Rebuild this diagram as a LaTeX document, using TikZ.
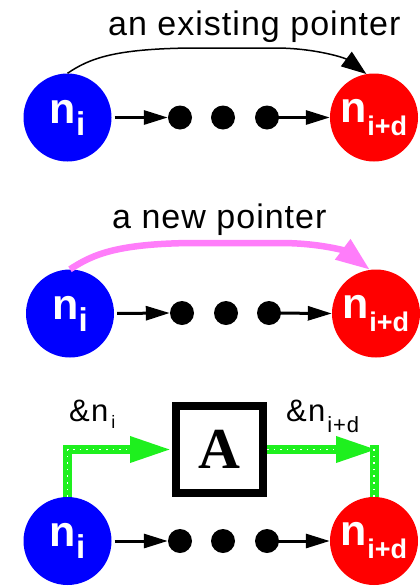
\documentclass[tikz,border=0pt]{standalone}
\usepackage{fontspec}
\setmainfont{Liberation Sans}
\newfontfamily\captionfont[LetterSpace=3]{Liberation Sans}
\newfontfamily\refbfont[LetterSpace=4]{Liberation Sans}
\newfontfamily\boxfont{Liberation Serif}
\usetikzlibrary{arrows.meta}

\definecolor{nodeblue}{RGB}{0,0,255}
\definecolor{nodered}{RGB}{255,0,0}
\definecolor{newptr}{RGB}{255,125,250}
\definecolor{refgreen}{RGB}{30,240,30}

% element label: big bold n with a lowered subscript
\newcommand\elemlabel[3]{{\fontsize{43pt}{43pt}\selectfont n}\raisebox{-#3}{\fontsize{#2}{#2}\selectfont #1}}

\begin{document}
\begin{tikzpicture}[x=1pt,y=-1pt,
  elem/.style={circle, inner sep=0pt, minimum size=88pt, text=white, font=\bfseries},
  firstelem/.style={elem, fill=nodeblue},
  lastelem/.style={elem, fill=nodered},
  gapdot/.style={circle, fill=black, inner sep=0pt, minimum size=24pt},
  link/.style={line width=3pt, -{Triangle[length=24pt,width=14pt]}},
  oldptr/.style={line width=1.5pt, -{Triangle[length=25pt,width=18pt]}},
  newptrline/.style={line width=6.5pt, color=newptr, -{Triangle[length=34pt,width=24pt]}},
  refline/.style={line width=9pt, color=refgreen, line join=miter},
  refarrow/.style={refline, -{Triangle[length=42pt,width=24pt]}},
  refdots/.style={white, line width=1.6pt, dash pattern=on 1.6pt off 5pt},
  caption/.style={inner sep=0pt, anchor=base west, font={\captionfont\fontsize{34pt}{34pt}\selectfont}},
  reflabel/.style={inner sep=0pt, anchor=base west, font={\refbfont\fontsize{31pt}{31pt}\selectfont}},
  fnbox/.style={draw, line width=8pt, minimum size=87pt, inner sep=0pt,
    font={\boxfont\bfseries\fontsize{58pt}{58pt}\selectfont}}
]
\useasboundingbox (0,0) rectangle (420,587);

% ---- row 1: the existing pointer ----
\node[caption] (cap1) at (108,35) {an existing pointer};
\node[firstelem] (b1) at (67.5,117.5) {\elemlabel{i}{33pt}{12pt}};
\node[lastelem] (r1) at (374,117.5) {\elemlabel{i+d}{27pt}{13pt}};
\node[gapdot] (d1a) at (180,117.5) {};
\node[gapdot] (d1b) at (223,117.5) {};
\node[gapdot] (d1c) at (267,117.5) {};
\draw[link, shorten <=3pt] (b1.east) -- (d1a.west);
\draw[link] (d1c.center) -- (r1.west);
\draw[oldptr] (b1.north) .. controls (90,58) and (115,49) .. (190,48)
  -- (275,48) .. controls (315,48) and (345,58) .. (r1.100);

% ---- row 2: a new pointer ----
\node[caption] (cap2) at (112,228) {a new pointer};
\node[firstelem] (b2) at (70,313.5) {\elemlabel{i}{33pt}{12pt}};
\node[lastelem] (r2) at (376,313.5) {\elemlabel{i+d}{27pt}{13pt}};
\node[gapdot] (d2a) at (182,313) {};
\node[gapdot] (d2b) at (226,313) {};
\node[gapdot] (d2c) at (269,313) {};
\draw[link, shorten <=3pt] (b2.east) -- (d2a.west);
\draw[link] (d2c.center) -- (r2.west);
\draw[newptrline] (b2.north) .. controls (92,255) and (115,244) .. (190,243)
  -- (280,243) .. controls (320,243) and (345,251) .. (r2.98);

% ---- row 3: references passed through A ----
\node[firstelem] (b3) at (67.5,541) {\elemlabel{i}{33pt}{12pt}};
\node[lastelem] (r3) at (374,541) {\elemlabel{i+d}{27pt}{13pt}};
\node[gapdot] (d3a) at (180,541) {};
\node[gapdot] (d3b) at (223,541) {};
\node[gapdot] (d3c) at (267,541) {};
\draw[link, shorten <=3pt] (b3.east) -- (d3a.west);
\draw[link] (d3c.center) -- (r3.west);

\node[fnbox] (A) at (219.5,449.5) {A};
\coordinate (gtip) at (378,449.5);
\coordinate (gtop) at (373,445);
\draw[refarrow] (b3.north) |- (A.west);
\draw[refarrow] (A.east) -- (gtip);
\draw[refline] (r3.north) -- (r3.north |- gtop);
% white speckle on the green reference lines
\draw[refdots] (b3.north) |- ([xshift=-44pt]A.west);
\draw[refdots] (A.east) -- ([xshift=-44pt]gtip);
\draw[refdots] (r3.north) -- ([yshift=2pt]r3.north |- gtop);

\node[reflabel] (lab1) at (69,421) {\&n\hspace{3pt}\raisebox{-7pt}{\fontsize{18pt}{18pt}\selectfont i}};
\node[reflabel] (lab2) at (286,421) {\&n\hspace{2pt}\raisebox{-11pt}{\fontsize{22pt}{22pt}\selectfont i+d}};
\end{tikzpicture}
\end{document}
